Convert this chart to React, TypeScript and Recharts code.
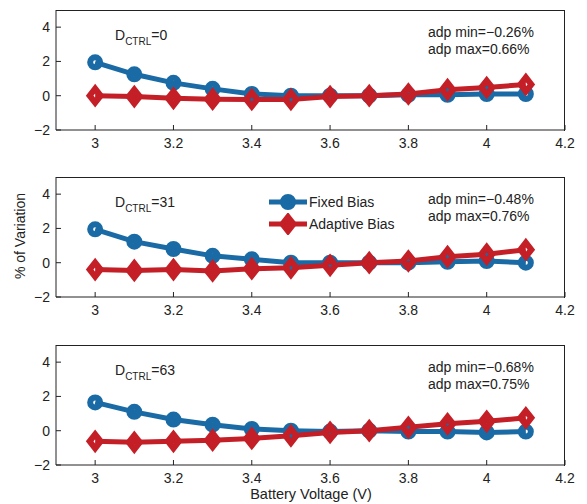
import { LineChart, Line, XAxis, YAxis } from 'recharts'

const voltage = [3.0, 3.1, 3.2, 3.3, 3.4, 3.5, 3.6, 3.7, 3.8, 3.9, 4.0, 4.1]

const fixed0 = [1.95, 1.25, 0.75, 0.4, 0.1, 0.0, 0.0, 0.0, 0.05, 0.05, 0.1, 0.1]
const adaptive0 = [0.0, -0.05, -0.15, -0.2, -0.22, -0.22, -0.05, 0.0, 0.1, 0.35, 0.48, 0.66]

const fixed31 = [1.95, 1.23, 0.8, 0.4, 0.2, 0.0, 0.0, 0.0, 0.0, 0.05, 0.1, 0.0]
const adaptive31 = [-0.4, -0.45, -0.4, -0.48, -0.35, -0.3, -0.15, 0.0, 0.1, 0.35, 0.5, 0.76]

const fixed63 = [1.65, 1.1, 0.65, 0.35, 0.1, 0.0, -0.05, 0.0, -0.05, -0.05, -0.1, -0.05]
const adaptive63 = [-0.62, -0.68, -0.62, -0.55, -0.45, -0.3, -0.1, 0.0, 0.2, 0.4, 0.55, 0.75]

const dctrl = ['0', '31', '63']
const adpMin = ['−0.26%', '−0.48%', '−0.68%']
const adpMax = ['0.66%', '0.76%', '0.75%']

const xTicks = [3, 3.2, 3.4, 3.6, 3.8, 4, 4.2]
const yTicks = [-2, 0, 2, 4]
const xDomain = [2.9, 4.2]
const yDomain = [-2, 5]

const BLUE = '#1a6ba5'
const RED = '#c41f27'
const INK = '#222'
const FONT = '"Liberation Sans", Arial, sans-serif'

const panels = [
    { fixed: fixed0, adaptive: adaptive0 },
    { fixed: fixed31, adaptive: adaptive31 },
    { fixed: fixed63, adaptive: adaptive63 },
]
const chartTops = [0, 167, 335]
const PLOT_TOP = 10
const PLOT_LEFT = 56
const PLOT_RIGHT = 565
const PLOT_H = 120

const fmt = (v: number) => String(v).replace('-', '−')

// open circle with a thick rim, like the MATLAB markers
const CircleDot = (props: any) => {
    const { cx, cy, index } = props
    if (cx == null || cy == null) return null
    return <circle key={`c-${index}`} cx={cx} cy={cy} r={5} fill="none" stroke={BLUE} strokeWidth={6} />
}

const diamond = (cx: number, cy: number) => `${cx},${cy - 7} ${cx + 5.5},${cy} ${cx},${cy + 7} ${cx - 5.5},${cy}`

const DiamondDot = (props: any) => {
    const { cx, cy, index } = props
    if (cx == null || cy == null) return null
    return <polygon key={`d-${index}`} points={diamond(cx, cy)} fill="none" stroke={RED} strokeWidth={6} />
}

function Panel({ idx }: { idx: number }) {
    const p = panels[idx]
    const rows = voltage.map((v, i) => ({ v, fixed: p.fixed[i], adaptive: p.adaptive[i] }))
    return (
        <LineChart
            width={587}
            height={PLOT_TOP + PLOT_H + 30}
            data={rows}
            margin={{ top: PLOT_TOP, right: 587 - PLOT_RIGHT, left: 0, bottom: 0 }}
        >
            <XAxis
                dataKey="v"
                type="number"
                domain={xDomain}
                ticks={xTicks}
                height={30}
                tickSize={-5}
                tickMargin={13}
                stroke={INK}
                tick={{ fill: INK, fontSize: 14, fontFamily: FONT }}
            />
            <YAxis
                type="number"
                domain={yDomain}
                ticks={yTicks}
                width={PLOT_LEFT}
                tickSize={-5}
                tickMargin={11}
                tickFormatter={fmt}
                stroke={INK}
                tick={{ fill: INK, fontSize: 14, fontFamily: FONT }}
            />
            <Line
                type="linear"
                dataKey="fixed"
                stroke={BLUE}
                strokeWidth={5}
                dot={CircleDot}
                activeDot={false}
                isAnimationActive={false}
            />
            <Line
                type="linear"
                dataKey="adaptive"
                stroke={RED}
                strokeWidth={5}
                dot={DiamondDot}
                activeDot={false}
                isAnimationActive={false}
            />
        </LineChart>
    )
}

export default function App() {
    return (
        <div style={{ position: 'absolute', left: 0, top: 0, width: 587, height: 504, background: '#fff', fontFamily: FONT, color: INK }}>
            {chartTops.map((t, i) => (
                <div key={i} style={{ position: 'absolute', left: 0, top: t }}>
                    <Panel idx={i} />
                </div>
            ))}
            {/* top and right edges of the axes box */}
            {chartTops.map((t, i) => (
                <div
                    key={`b${i}`}
                    style={{
                        position: 'absolute',
                        left: PLOT_LEFT,
                        top: t + PLOT_TOP,
                        width: PLOT_RIGHT - PLOT_LEFT - 1,
                        height: PLOT_H,
                        borderTop: `1px solid ${INK}`,
                        borderRight: `1px solid ${INK}`,
                        pointerEvents: 'none',
                    }}
                />
            ))}
            {chartTops.map((t, i) => (
                <div key={`d${i}`} style={{ position: 'absolute', left: 115, top: t + PLOT_TOP + 16, fontSize: 14, lineHeight: '18px', whiteSpace: 'nowrap' }}>
                    D<span style={{ fontSize: 10, position: 'relative', top: 5 }}>CTRL</span>={dctrl[i]}
                </div>
            ))}
            {chartTops.map((t, i) => (
                <div key={`a${i}`} style={{ position: 'absolute', left: 428, top: t + PLOT_TOP + 14, fontSize: 14, lineHeight: '17px', whiteSpace: 'nowrap' }}>
                    <div>adp min={adpMin[i]}</div>
                    <div>adp max={adpMax[i]}</div>
                </div>
            ))}
            <div style={{ position: 'absolute', left: 268, top: 191, fontSize: 14, lineHeight: '22px', whiteSpace: 'nowrap' }}>
                <div style={{ display: 'flex', alignItems: 'center' }}>
                    <svg width={40} height={22}>
                        <line x1={1} y1={11} x2={39} y2={11} stroke={BLUE} strokeWidth={5} />
                        <circle cx={20} cy={11} r={5} fill="none" stroke={BLUE} strokeWidth={6} />
                    </svg>
                    <span style={{ marginLeft: 1 }}>Fixed Bias</span>
                </div>
                <div style={{ display: 'flex', alignItems: 'center' }}>
                    <svg width={40} height={22}>
                        <line x1={1} y1={11} x2={39} y2={11} stroke={RED} strokeWidth={5} />
                        <polygon points={diamond(20, 11)} fill="none" stroke={RED} strokeWidth={6} />
                    </svg>
                    <span style={{ marginLeft: 1 }}>Adaptive Bias</span>
                </div>
            </div>
            <div style={{ position: 'absolute', left: 12, top: 236, transform: 'translate(-50%, -50%) rotate(-90deg)', transformOrigin: 'center', fontSize: 14, whiteSpace: 'nowrap', marginLeft: 8 }}>
                % of Variation
            </div>
            <div style={{ position: 'absolute', left: 311, top: 494, transform: 'translate(-50%, -50%)', fontSize: 14.5, whiteSpace: 'nowrap' }}>
                Battery Voltage (V)
            </div>
        </div>
    )
}
